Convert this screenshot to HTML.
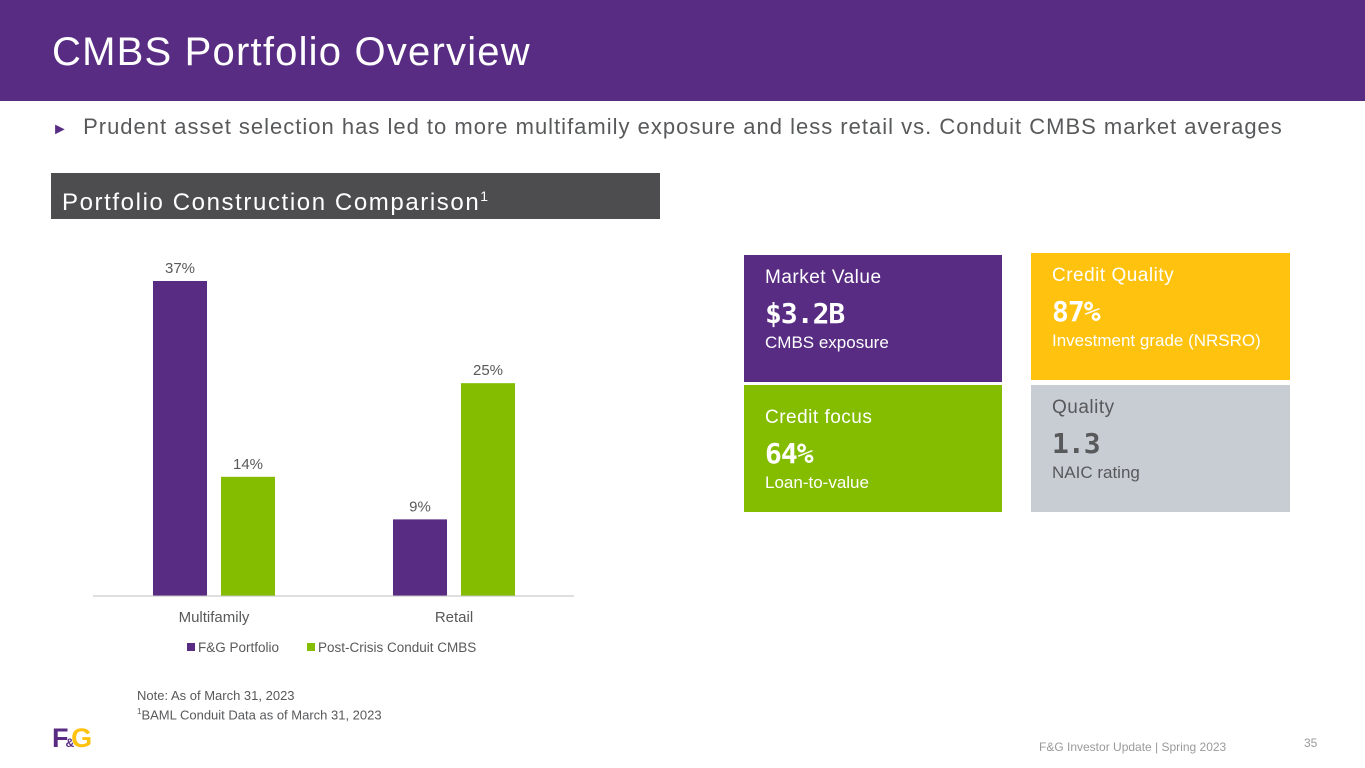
<!DOCTYPE html>
<html><head><meta charset="utf-8"><style>
body{margin:0;width:1365px;height:768px;position:relative;background:#fff;font-family:"Liberation Sans",sans-serif;overflow:hidden}
.abs{position:absolute}
.tile{position:absolute;box-sizing:border-box;padding:12px 0 0 21px;color:#fff}
.tile .h{font-size:19px;letter-spacing:0.5px}
.tile .v{font-family:"DejaVu Sans Mono",monospace;font-weight:bold;font-size:28px;margin-top:8px;line-height:34px;letter-spacing:-1px}
.tile .s{font-size:17px;margin-top:2px}
</style></head><body>
<div class="abs" style="left:0;top:0;width:1365px;height:101px;background:#582C83"></div>
<div class="abs" style="left:52px;top:30px;font-size:40px;color:#fff;letter-spacing:1.2px">CMBS Portfolio Overview</div>
<div class="abs" style="left:52px;top:114px;font-size:22px;color:#58595B;letter-spacing:1px;white-space:nowrap"><span style="color:#582C83;font-size:16px">►</span>&nbsp; Prudent asset selection has led to more multifamily exposure and less retail vs. Conduit CMBS market averages</div>
<div class="abs" style="left:51px;top:173px;width:609px;height:46px;background:#4D4D4F;color:#fff;font-size:24px;line-height:46px;padding-left:11px;box-sizing:border-box;letter-spacing:1.6px;white-space:nowrap">Portfolio Construction Comparison<sup style="font-size:14px">1</sup></div>
<svg class="abs" style="left:0;top:0" width="700" height="680" id="chart"></svg>
<div class="tile" style="left:744px;top:255px;width:258px;height:127px;background:#582C83"><div class="h">Market Value</div><div class="v">$3.2B</div><div class="s">CMBS exposure</div></div>
<div class="tile" style="left:1031px;top:253px;width:259px;height:127px;background:#FFC20E"><div class="h">Credit Quality</div><div class="v">87%</div><div class="s">Investment grade (NRSRO)</div></div>
<div class="tile" style="left:744px;top:385px;width:258px;height:127px;background:#84BD00;padding-top:22px"><div class="h">Credit focus</div><div class="v">64%</div><div class="s">Loan-to-value</div></div>
<div class="tile" style="left:1031px;top:385px;width:259px;height:127px;background:#C8CCD3;color:#58595B"><div class="h">Quality</div><div class="v">1.3</div><div class="s">NAIC rating</div></div>
<div class="abs" style="left:137px;top:688px;font-size:13px;color:#58595B;line-height:16px">Note: As of March 31, 2023<br><sup style="font-size:8px">1</sup>BAML Conduit Data as of March 31, 2023</div>
<div class="abs" style="left:52px;top:724px;font-weight:bold;font-size:27px;letter-spacing:-3px;line-height:28px"><span style="color:#582C83">F</span><span style="color:#582C83;font-size:12px">&amp;</span><span style="color:#FFC20E">G</span></div>
<div class="abs" style="left:1039px;top:740px;font-size:12px;color:#9A9A9A">F&amp;G Investor Update | Spring 2023</div>
<div class="abs" style="left:1304px;top:736px;font-size:12px;color:#9A9A9A">35</div>
<script>
const categories=["Multifamily","Retail"];
const seriesNames=["F&G Portfolio","Post-Crisis Conduit CMBS"];
const fgValues=[37,9];
const conduitValues=[14,25];
const colors=["#582C83","#84BD00"];
const svg=document.getElementById('chart');const NS="http://www.w3.org/2000/svg";
const base=596,top0=281,maxV=37;
const y=v=>base-(v/maxV)*(base-top0);
const xCenter=i=>214+i*240;
function mk(t,a,txt){const e=document.createElementNS(NS,t);for(const k in a)e.setAttribute(k,a[k]);if(txt!==undefined)e.textContent=txt;svg.appendChild(e);return e;}
[fgValues,conduitValues].forEach((vals,s)=>{vals.forEach((v,i)=>{
const x=xCenter(i)+(s===0?-61:7);
const r=mk('rect',{x:x,y:y(v),width:54,height:base-y(v),fill:colors[s]});


const t=mk('text',{x:x+27,y:y(v)-8,'text-anchor':'middle','font-size':15,fill:'#58595B'},v+'%');


});});
const ax=mk('line',{x1:93,x2:574,y1:base,y2:base,stroke:'#BFBFBF','stroke-width':1});


categories.forEach((c,i)=>{const t=mk('text',{x:xCenter(i),y:622,'text-anchor':'middle','font-size':15,fill:'#58595B'},c);

});
const lx=[187,307];
seriesNames.forEach((n,s)=>{const g=mk('rect',{x:lx[s],y:643,width:8,height:8,fill:colors[s]});


const t=mk('text',{x:lx[s]+11,y:652,'font-size':13.5,fill:'#58595B'},n);

});
</script>
</body></html>
